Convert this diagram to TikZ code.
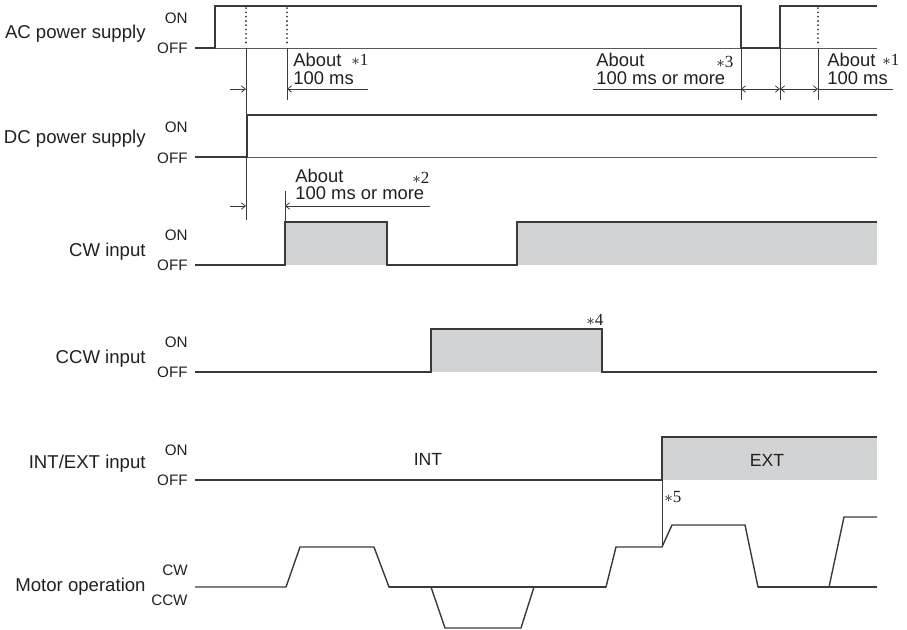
\documentclass[tikz,border=0pt]{standalone}
\usepackage{fontspec}
\setmainfont{Liberation Sans}
\newfontfamily\notefont{Liberation Serif}
\usetikzlibrary{arrows.meta}
\definecolor{line-dark}{HTML}{3A3A3A}
\definecolor{line-grey}{HTML}{58595B}
\definecolor{on-fill}{HTML}{D1D3D4}
\definecolor{text-dark}{HTML}{231F20}
\newcommand{\remarkno}[1]{$\ast$#1}

\begin{document}
\begin{tikzpicture}[x=0.5pt, y=-0.5pt,
      every node/.style={font=\fontsize{9.3}{11}\selectfont, text=text-dark, inner sep=0pt},
      rowlabel/.style={anchor=base east},
      levellabel/.style={anchor=base east, font=\fontsize{7.6}{9}\selectfont},
      timetext/.style={anchor=base west, font=\fontsize{9.2}{11}\selectfont},
      remark/.style={anchor=base west, font=\notefont\fontsize{8.5}{9}\selectfont},
      signal/.style={draw=line-dark, line width=0.7pt},
      offline/.style={draw=line-grey, line width=0.45pt},
      dimline/.style={draw=line-dark, line width=0.4pt},
      dimarrow/.style={dimline, -{Straight Barb[length=2pt,width=3.2pt]}},
      dimboth/.style={dimline, {Straight Barb[length=2pt,width=3.2pt]}-{Straight Barb[length=2pt,width=3.2pt]}},
      dotmark/.style={draw=line-dark, line width=1pt, line cap=round,
                      dash pattern=on 0.05pt off 2.1pt},
      onbox/.style={fill=on-fill, draw=none}]
    \useasboundingbox (0,0) rectangle (907,629);

    % AC power supply
    \node[rowlabel] (acLabel) at (146,38) {AC power supply};
    \node[levellabel] (acOn) at (188,23) {ON};
    \node[levellabel] (acOff) at (188,53) {OFF};
    \draw[offline] (215,48) -- (877,48);
    \draw[signal] (195,48) -- (215,48) -- (215,6) -- (741,6) -- (741,48)
          -- (780,48) -- (780,6) -- (877,6);
    \draw[dotmark] (246,8) -- (246,43);
    \draw[dotmark] (287,8) -- (287,43);
    \draw[dotmark] (818,8) -- (818,43);
    \draw[dimline] (246,48) -- (246,220);
    \draw[dimline] (287,48) -- (287,100);
    \draw[dimline] (741,48) -- (741,100);
    \draw[dimline] (780,48) -- (780,100);
    \draw[dimline] (818,48) -- (818,100);
    \draw[dimarrow] (230,89) -- (246,89);
    \draw[dimarrow] (368,89) -- (287,89);
    \draw[dimline] (593,89) -- (741,89);
    \draw[dimboth] (741,89) -- (780,89);
    \draw[dimboth] (780,89) -- (818,89);
    \draw[dimline] (818,89) -- (893,89);
    \node[timetext] (acAbout) at (293,66) {About};
    \node[timetext] (acTime) at (293,84) {100 ms};
    \node[remark] (acNote) at (351,65) {\remarkno{1}};
    \node[timetext] (offAbout) at (596,66) {About};
    \node[timetext] (offTime) at (596,84) {100 ms or more};
    \node[remark] (offNote) at (716,67) {\remarkno{3}};
    \node[timetext] (reAbout) at (827,66) {About};
    \node[timetext] (reTime) at (827,84) {100 ms};
    \node[remark] (reNote) at (882,65) {\remarkno{1}};

    % DC power supply
    \node[rowlabel] (dcLabel) at (146,143) {DC power supply};
    \node[levellabel] (dcOn) at (188,132) {ON};
    \node[levellabel] (dcOff) at (188,163) {OFF};
    \draw[offline] (247,157) -- (877,157);
    \draw[signal] (195,157) -- (247,157) -- (247,115) -- (877,115);
    \draw[dimline] (285,191) -- (285,222);
    \draw[dimarrow] (230,206) -- (246,206);
    \draw[dimarrow] (430,206) -- (285,206);
    \node[timetext] (dcAbout) at (295,182) {About};
    \node[timetext] (dcTime) at (295,199) {100 ms or more};
    \node[remark] (dcNote) at (412,183) {\remarkno{2}};

    % CW input
    \node[rowlabel] (cwLabel) at (146,256) {CW input};
    \node[levellabel] (cwOn) at (188,240) {ON};
    \node[levellabel] (cwOff) at (188,270) {OFF};
    \fill[onbox] (285,222) rectangle (387,265);
    \fill[onbox] (517,222) rectangle (877,265);
    \draw[signal] (195,265) -- (285,265) -- (285,222) -- (387,222) -- (387,265)
          -- (517,265) -- (517,222) -- (877,222);

    % CCW input
    \node[rowlabel] (ccwLabel) at (146,363) {CCW input};
    \node[levellabel] (ccwOn) at (188,347) {ON};
    \node[levellabel] (ccwOff) at (188,377) {OFF};
    \fill[onbox] (431,329) rectangle (602,372);
    \draw[signal] (195,372) -- (431,372) -- (431,329) -- (602,329) -- (602,372)
          -- (877,372);
    \node[remark] (ccwNote) at (586,325) {\remarkno{4}};

    % INT/EXT input
    \node[rowlabel] (ieLabel) at (146,468) {INT/EXT input};
    \node[levellabel] (ieOn) at (188,455) {ON};
    \node[levellabel] (ieOff) at (188,485) {OFF};
    \fill[onbox] (662,437) rectangle (877,480);
    \draw[signal] (195,480) -- (662,480) -- (662,437) -- (877,437);
    \node[anchor=base, font=\fontsize{8.8}{10}\selectfont] (intText) at (428,465) {INT};
    \node[anchor=base, font=\fontsize{8.8}{10}\selectfont] (extText) at (767,466) {EXT};
    \draw[dimline] (662,480) -- (662,547);
    \node[remark] (ieNote) at (664,502) {\remarkno{5}};

    % Motor operation
    \node[rowlabel] (motLabel) at (146,591) {Motor operation};
    \node[levellabel] (motCw) at (188,575) {CW};
    \node[levellabel] (motCcw) at (188,605) {CCW};
    \draw[signal] (389,587) -- (606,587);
    \draw[signal] (758,587) -- (877,587);
    \draw[signal] (195,587) -- (286,587) -- (300,547) -- (374,547) -- (389,587)
          -- (431,587) -- (445,628) -- (521,628) -- (534,587) -- (606,587)
          -- (616,547) -- (662,547) -- (672,525) -- (745,525) -- (758,587)
          -- (829,587) -- (844,517) -- (877,517);
  \end{tikzpicture}
\end{document}
